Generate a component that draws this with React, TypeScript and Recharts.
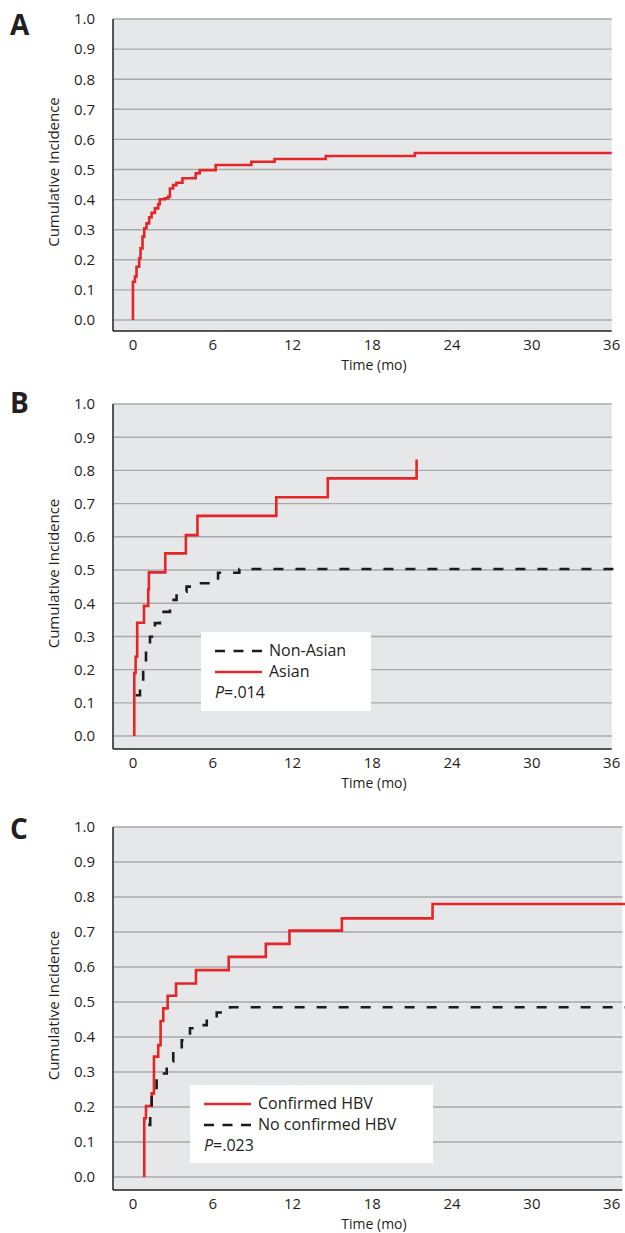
import React from 'react';
import { LineChart, Line, XAxis, YAxis, ReferenceArea, ReferenceLine, Legend } from 'recharts';

const FONT = '"Open Sans", "DejaVu Sans", sans-serif';
const INK = '#231f20';
const RED = '#e52528';
const BLACK = '#1b1b1b';
const PANEL_BG = '#e6e7e8';
const GRID = '#a7a9ac';

const xTicks = [0, 6, 12, 18, 24, 30, 36];
const yTicks = [0, 0.1, 0.2, 0.3, 0.4, 0.5, 0.6, 0.7, 0.8, 0.9, 1.0];

// A - all patients
const allT = [0, 0, 0.15, 0.27, 0.47, 0.57, 0.72, 0.85, 1.02, 1.22, 1.4, 1.65, 1.9, 2.02, 2.4, 2.65, 2.78, 3.02, 3.27, 3.72, 4.72, 5.02, 6.22, 8.9, 10.65, 14.5, 21.2, 36];
const allV = [0, 0.127, 0.144, 0.177, 0.205, 0.238, 0.277, 0.305, 0.321, 0.341, 0.356, 0.371, 0.385, 0.401, 0.404, 0.41, 0.437, 0.448, 0.456, 0.471, 0.487, 0.498, 0.515, 0.526, 0.535, 0.545, 0.555, 0.555];

// B - by ethnicity
const nonAsianT = [0.2, 0.53, 0.77, 0.98, 1.28, 1.65, 2.03, 2.78, 3.28, 4.03, 4.78, 5.78, 6.4, 8.0, 37];
const nonAsianV = [0.123, 0.149, 0.199, 0.259, 0.299, 0.34, 0.374, 0.41, 0.435, 0.45, 0.46, 0.475, 0.492, 0.503, 0.503];
const asianT = [0.1, 0.1, 0.2, 0.32, 0.83, 1.15, 1.2, 2.43, 3.98, 4.85, 10.78, 14.65, 21.33];
const asianV = [0, 0.19, 0.239, 0.341, 0.392, 0.442, 0.493, 0.55, 0.605, 0.663, 0.719, 0.776, 0.833];

// C - by HBV status
const hbvT = [0.85, 0.85, 0.98, 1.41, 1.58, 1.9, 2.08, 2.28, 2.61, 3.24, 4.74, 7.2, 9.99, 11.77, 15.71, 22.53, 37];
const hbvV = [0, 0.168, 0.203, 0.239, 0.344, 0.377, 0.446, 0.482, 0.518, 0.553, 0.591, 0.629, 0.666, 0.704, 0.739, 0.78, 0.78];
const noHbvT = [1.15, 1.3, 1.41, 1.78, 2.54, 3.03, 3.67, 4.29, 4.8, 5.55, 6.3, 7.3, 37];
const noHbvV = [0.149, 0.2, 0.244, 0.296, 0.33, 0.361, 0.391, 0.425, 0.434, 0.453, 0.47, 0.485, 0.485];

type Series = { key: string; name: string; color: string; dashed: boolean; t: number[]; v: number[] };

const toPoints = (t: number[], v: number[]) => t.map((x, i) => ({ t: x, v: v[i] }));

const seriesA: Series[] = [{ key: 'all', name: 'All', color: RED, dashed: false, t: allT, v: allV }];
const seriesB: Series[] = [
  { key: 'nonAsian', name: 'Non-Asian', color: BLACK, dashed: true, t: nonAsianT, v: nonAsianV },
  { key: 'asian', name: 'Asian', color: RED, dashed: false, t: asianT, v: asianV },
];
const seriesC: Series[] = [
  { key: 'hbv', name: 'Confirmed HBV', color: RED, dashed: false, t: hbvT, v: hbvV },
  { key: 'noHbv', name: 'No confirmed HBV', color: BLACK, dashed: true, t: noHbvT, v: noHbvV },
];

function YLabel(props: any) {
  const vb = props.viewBox || {};
  const cx = (vb.x || 0) + 53;
  const cy = vb.y + vb.height / 2 - 3;
  return (
    <text x={cx} y={cy} transform={`rotate(-90 ${cx} ${cy})`} textAnchor="middle" dominantBaseline="central"
      fill={INK} fontSize={15} fontFamily={FONT}>
      Cumulative Incidence
    </text>
  );
}

function XLabel(props: any) {
  const vb = props.viewBox || {};
  const cx = vb.x + vb.width / 2 + 5;
  const cy = vb.y + 33;
  return (
    <text x={cx} y={cy} textAnchor="middle" dominantBaseline="central" fill={INK} fontSize={14} fontFamily={FONT}>
      Time (mo)
    </text>
  );
}

function LegendBox({ series, pText }: { series: Series[]; pText: string }) {
  return (
    <div style={{ background: '#fff', width: '100%', height: '100%', boxSizing: 'border-box', paddingTop: 8, paddingLeft: 14, fontFamily: FONT, fontSize: 16, color: INK }}>
      {series.map((s) => (
        <div key={s.key} style={{ display: 'flex', alignItems: 'center', height: 21 }}>
          <svg width={47} height={6}>
            <line x1={0} y1={3} x2={47} y2={3} stroke={s.color} strokeWidth={2.6} strokeDasharray={s.dashed ? '10 8.5' : undefined} />
          </svg>
          <span style={{ marginLeft: 7, lineHeight: '21px' }}>{s.name}</span>
        </div>
      ))}
      <div style={{ height: 21, lineHeight: '21px' }}>
        <i>P</i>={pText}
      </div>
    </div>
  );
}

type PanelProps = {
  letter: string;
  letterTop: number;
  height: number;
  marginTop: number;
  marginBottom: number;
  yMin: number;
  bgEnd: number;
  series: Series[];
  legend?: { left: number; top: number; width: number; height: number; pText: string };
};

function Panel({ letter, letterTop, height, marginTop, marginBottom, yMin, bgEnd, series, legend }: PanelProps) {
  return (
    <div style={{ position: 'relative', width: 625, height }}>
      <div style={{ position: 'absolute', left: 10, top: letterTop, fontSize: 28, lineHeight: '28px', fontWeight: 700, fontFamily: FONT, color: INK, zIndex: 2 }}>
        {letter}
      </div>
      <LineChart width={625} height={height} margin={{ top: marginTop, right: 0, bottom: marginBottom, left: 0 }}>
        <XAxis type="number" dataKey="t" domain={[-1.5, 37]} ticks={xTicks} interval={0} allowDataOverflow
          axisLine={false} tickLine={false} tickSize={6} tickMargin={2} height={40}
          tick={{ fill: INK, fontSize: 15, fontFamily: FONT }} label={XLabel} />
        <YAxis type="number" dataKey="v" domain={[yMin, 1]} ticks={yTicks} interval={0} allowDataOverflow
          tickFormatter={(v: number) => v.toFixed(1)} width={113}
          axisLine={{ stroke: INK, strokeWidth: 1.5 }} tickLine={false} tickSize={6} tickMargin={12}
          tick={{ fill: INK, fontSize: 15, fontFamily: FONT }} label={YLabel} />
        <ReferenceArea x1={-1.5} x2={bgEnd} y1={yMin} y2={1} fill={PANEL_BG} fillOpacity={1} stroke="none" ifOverflow="visible" />
        {yTicks.map((v) => (
          <ReferenceLine key={v} segment={[{ x: -1.5, y: v }, { x: bgEnd, y: v }]} stroke={GRID} strokeWidth={1.4} ifOverflow="visible" />
        ))}
        <ReferenceLine segment={[{ x: -1.5, y: yMin }, { x: bgEnd, y: yMin }]} stroke={INK} strokeWidth={1.5} ifOverflow="visible" />
        {series.map((s) => (
          <Line key={s.key} data={toPoints(s.t, s.v)} dataKey="v" name={s.name} type="stepAfter"
            stroke={s.color} strokeWidth={2.6} strokeDasharray={s.dashed ? '10 12' : undefined}
            dot={false} activeDot={false} isAnimationActive={false} />
        ))}
        {legend && (
          <Legend layout="vertical" align="center" verticalAlign="middle"
            wrapperStyle={{ left: legend.left, top: legend.top, width: legend.width, height: legend.height }}
            content={() => <LegendBox series={series} pText={legend.pText} />} />
        )}
      </LineChart>
    </div>
  );
}

export default function App() {
  return (
    <div style={{ width: 625, background: '#fff', fontFamily: FONT }}>
      <style>{'body{margin:0;background:#fff}'}</style>
      <Panel letter="A" letterTop={10} height={380} marginTop={19} marginBottom={9} yMin={-0.0365} bgEnd={36} series={seriesA} />
      <Panel letter="B" letterTop={8} height={412} marginTop={24} marginBottom={3} yMin={-0.039} bgEnd={36} series={seriesB}
        legend={{ left: 201, top: 252, width: 170, height: 79, pText: '.014' }} />
      <Panel letter="C" letterTop={22} height={441} marginTop={35} marginBottom={3} yMin={-0.037} bgEnd={36.8} series={seriesC}
        legend={{ left: 190, top: 293, width: 243, height: 78, pText: '.023' }} />
    </div>
  );
}
